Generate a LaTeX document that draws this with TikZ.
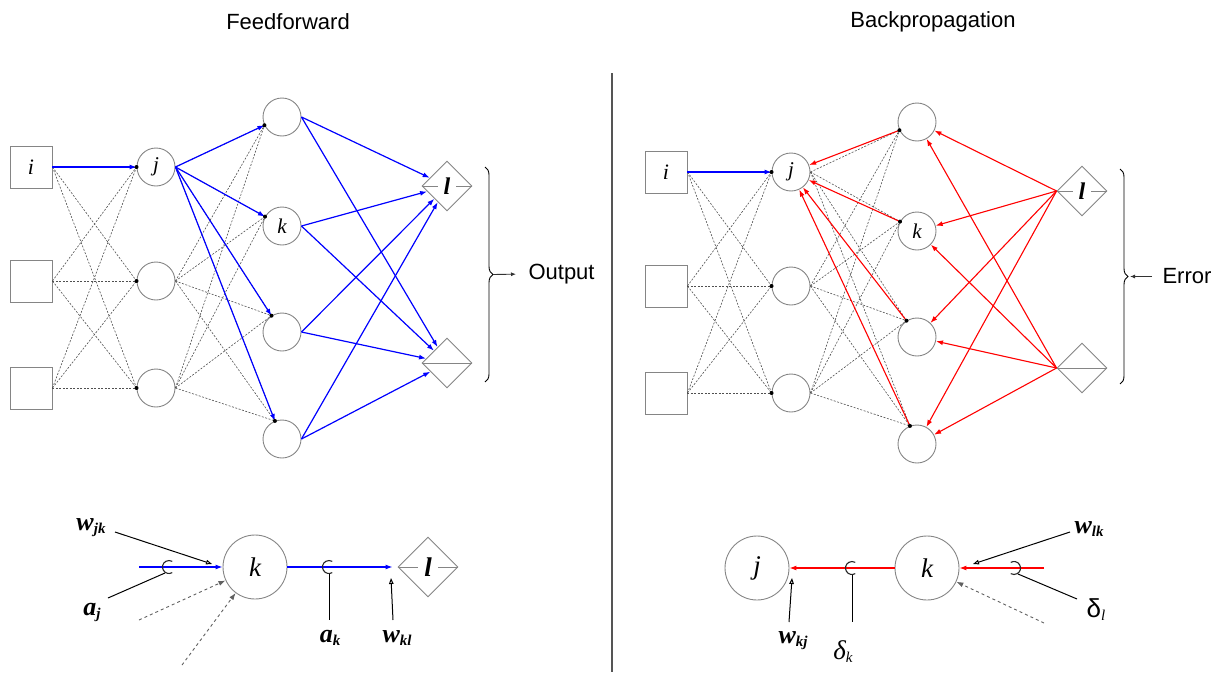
\documentclass[tikz,border=0pt]{standalone}
\usepackage{fontspec}
\setmainfont{Liberation Serif}
\newfontfamily\sansfam{Liberation Sans}
\usetikzlibrary{arrows.meta,shapes.geometric,calc,decorations.pathreplacing}

\definecolor{outline}{HTML}{858585}
\definecolor{wirecol}{HTML}{505050}
\definecolor{fwdblue}{HTML}{0000FF}
\definecolor{bwdred}{HTML}{FF0000}
\definecolor{divider}{HTML}{555555}

\tikzset{
  inbox/.style={draw=outline, line width=0.9pt, minimum size=42pt, inner sep=0pt,
    font=\fontsize{22}{22}\selectfont\itshape},
  unit/.style={circle, draw=outline, line width=0.9pt, minimum size=38pt, inner sep=0pt,
    font=\fontsize{21}{21}\selectfont\itshape},
  outd/.style={diamond, aspect=1, draw=outline, line width=0.9pt, minimum size=50pt, inner sep=0pt},
  midline/.style={draw=outline, line width=0.9pt},
  olabel/.style={fill=white, inner xsep=6pt, inner ysep=1pt,
    font=\fontsize{24}{24}\selectfont\bfseries\itshape},
  wire/.style={draw=wirecol, line width=0.6pt, dash pattern=on 2pt off 1.5pt},
  fwd/.style={draw=fwdblue, line width=1.2pt, -{Latex[length=7pt,width=5pt]}},
  bwd/.style={draw=bwdred, line width=1.1pt, -{Latex[length=7pt,width=5pt]}},
  annot/.style={draw=black, line width=1pt},
  hook/.style={draw=black!85, line width=1.1pt},
  openhead/.style={annot, -{Triangle[open,length=6pt,width=4.5pt]}},
  dasharrow/.style={draw=gray!75!black, line width=0.9pt, dash pattern=on 3pt off 3pt,
    -{Latex[length=7pt,width=5pt]}},
  title/.style={font=\fontsize{22}{24}\selectfont\sansfam},
  bigunit/.style={circle, draw=outline, line width=0.9pt, minimum size=64pt, inner sep=0pt,
    font=\fontsize{27}{27}\selectfont\itshape},
  bigoutd/.style={outd, minimum size=60pt},
  small/.style={-{Latex[length=5pt,width=4pt]}, line width=0.9pt, draw=black!80},
}

% weight / activation label: bold italic symbol with bold italic subscript
\newcommand{\symlab}[2]{{\fontsize{26}{26}\selectfont\bfseries\itshape #1}\raisebox{-3pt}{\fontsize{15}{15}\selectfont\bfseries\itshape #2}}

% the three layers and the output diamonds of one network
\newcommand{\placenet}[1]{%
  \node[inbox] (#1i1) at (31,167) {i};
  \node[inbox] (#1i2) at (31,281) {};
  \node[inbox] (#1i3) at (31,388) {};
  \node[unit] (#1j1) at (156,167) {j};
  \node[unit] (#1j2) at (156,281) {};
  \node[unit] (#1j3) at (156,388) {};
  \node[unit] (#1k1) at (282,117) {};
  \node[unit] (#1k2) at (282,226) {k};
  \node[unit] (#1k3) at (282,332) {};
  \node[unit] (#1k4) at (282,439) {};
  \node[outd] (#1l1) at (447,186) {};
  \node[outd] (#1l2) at (447,363) {};
  \draw[midline] (#1l1.west) -- (#1l1.east);
  \draw[midline] (#1l2.west) -- (#1l2.east);
  \node[olabel] (#1l1t) at (#1l1) {l};
}

% dotted connections of one network
\newcommand{\wirenet}[1]{%
  \foreach \t in {1,...,4}{\coordinate (#1k\t-in) at ($(#1k\t)!19.4pt!(#1j1.east)$);}
  \foreach \s in {1,2,3}{\foreach \t in {1,2,3}{\draw[wire] (#1i\s.east) -- (#1j\t.west);}}
  \foreach \s in {1,2,3}{\foreach \t in {1,...,4}{\draw[wire] (#1j\s.east) -- (#1k\t-in);}}
}

% input dots on the receiving units
\newcommand{\dotnet}[1]{%
  \foreach \p in {#1j1.west,#1j2.west,#1j3.west,#1k1-in,#1k2-in,#1k3-in,#1k4-in}{\fill (\p) circle[radius=2];}
}

\begin{document}
\begin{tikzpicture}[x=1pt,y=-1pt]
\useasboundingbox (0,0) rectangle (1220,672);

% titles and divider
\node[title] (ttlF) at (288,22) {Feedforward};
\node[title] (ttlB) at (933,22) {Backpropagation};
\coordinate (divtop) at (612,73);
\coordinate (divbot) at (612,672);
\draw[divider, line width=1.2pt] (divtop) -- (divbot);

% ---------- feedforward network ----------
\placenet{F}
\wirenet{F}
\draw[fwd] (Fi1.east) -- (Fj1.west);
\foreach \t in {1,...,4}{\draw[fwd] (Fj1.east) -- (Fk\t-in);}
\foreach \t in {1,...,4}{\draw[fwd] (Fk\t.east) -- (Fl1); \draw[fwd] (Fk\t.east) -- (Fl2);}
\dotnet{F}

\draw[line width=0.9pt, decorate, decoration={brace, amplitude=8pt}] (485,167) -- (485,382);
\coordinate (Ftip) at (493,274.5);
\node[title, anchor=west] (outlab) at (525,274) {Output};
\draw[small, shorten >=9pt] (Ftip) -- (outlab.west);

% ---------- backpropagation network ----------
\begin{scope}[shift={(635,5)}]
\placenet{B}
\end{scope}
\wirenet{B}
\draw[fwd] (Bi1.east) -- (Bj1.west);
\foreach \t in {1,...,4}{%
  \draw[bwd] (Bl1.west) -- (Bk\t);
  \draw[bwd] (Bl2.west) -- (Bk\t);
  \draw[bwd] (Bk\t-in) -- (Bj1);}
\dotnet{B}

\draw[line width=0.9pt, decorate, decoration={brace, amplitude=8pt}] (1120,169) -- (1120,384);
\coordinate (Btip) at (1128,276.5);
\node[title, anchor=west] (errlab) at (1159,276) {Error};
\coordinate (errstart) at (1152,276.5);
\draw[small, shorten >=2pt] (errstart) -- (Btip);

% ---------- single forward step ----------
\node[bigunit] (Dk) at (255,567) {k};
\node[bigoutd] (Dl) at (428,567) {};
\draw[midline] (Dl.west) -- (Dl.east);
\node[olabel, font=\fontsize{27}{27}\selectfont\bfseries\itshape] (Dlt) at (Dl) {l};

\coordinate (Din) at (139,567);
\draw[fwd] (Din) -- (Dk.west);
\draw[fwd, shorten >=5pt] (Dk.east) -- (Dl.west);

% activation a_j tapped from the incoming line
\coordinate (Dh1) at (169,567);
\draw[hook] (Dh1) ++(60:6.5) arc[start angle=60, end angle=300, radius=6.5];
\node (Daj) at (92,612) {\symlab{a}{j}};
\coordinate (Dajs) at (108,598);
\coordinate (Daje) at (165,573);
\draw[annot] (Dajs) -- (Daje);

% weight w_jk
\node (Dwjk) at (91,528) {\symlab{w}{jk}};
\coordinate (Dwjks) at (115,532);
\coordinate (Dwjke) at (212,564);
\draw[openhead] (Dwjks) -- (Dwjke);

% other incoming connections
\coordinate (Dd1) at (139,620);
\coordinate (Dd2) at (182,665);
\draw[dasharrow] (Dd1) -- (Dk);
\draw[dasharrow] (Dd2) -- (Dk);

% activation a_k
\coordinate (Dh2) at (329,567);
\draw[hook] (Dh2) ++(60:6.5) arc[start angle=60, end angle=300, radius=6.5];
\coordinate (Dakt) at (329,573.5);
\coordinate (Dakb) at (329,620);
\node (Dak) at (330,638) {\symlab{a}{k}};
\draw[annot] (Dakt) -- (Dakb);

% weight w_kl
\node (Dwkl) at (397,638) {\symlab{w}{kl}};
\coordinate (Dwkls) at (393,620);
\coordinate (Dwkle) at (391,578);
\draw[openhead] (Dwkls) -- (Dwkle);

% ---------- single backward step ----------
\node[bigunit] (Ej) at (757,568) {j};
\node[bigunit] (Ek) at (927,568) {k};
\draw[bwd] (Ek.west) -- (Ej.east);

% delta_k tapped from the backward line
\coordinate (Eh1) at (852,568);
\draw[hook] (Eh1) ++(60:6.5) arc[start angle=60, end angle=300, radius=6.5];
\coordinate (Edkt) at (852,574.5);
\coordinate (Edkb) at (852,622);
\draw[annot] (Edkt) -- (Edkb);
\node (Edk) at (843,652) {{\fontsize{27}{27}\selectfont\itshape δ}\raisebox{-3pt}{\fontsize{15}{15}\selectfont\itshape k}};

% weight w_kj
\node (Ewkj) at (793,641) {\symlab{w}{kj}};
\coordinate (Ewkjs) at (789,622);
\coordinate (Ewkje) at (792,578);
\draw[openhead] (Ewkjs) -- (Ewkje);

% incoming error from layer l
\coordinate (Ein) at (1044,568);
\draw[bwd] (Ein) -- (Ek.east);
\coordinate (Eh2) at (1014,568);
\draw[hook] (Eh2) ++(-120:6.5) arc[start angle=-120, end angle=120, radius=6.5];
\coordinate (Edls) at (1018,574);
\coordinate (Edle) at (1077,599);
\draw[annot] (Edls) -- (Edle);
\node (Edl) at (1096,610) {{\fontsize{26}{26}\selectfont\sansfam δ}\raisebox{-3pt}{\fontsize{15}{15}\selectfont\itshape l}};

% weight w_lk
\node (Ewlk) at (1089,529) {\symlab{w}{lk}};
\coordinate (Ewlks) at (1070,532);
\coordinate (Ewlke) at (973,564);
\draw[openhead] (Ewlks) -- (Ewlke);

% other incoming error
\coordinate (Ed1) at (1044,623);
\draw[dasharrow] (Ed1) -- (Ek);

\end{tikzpicture}
\end{document}
